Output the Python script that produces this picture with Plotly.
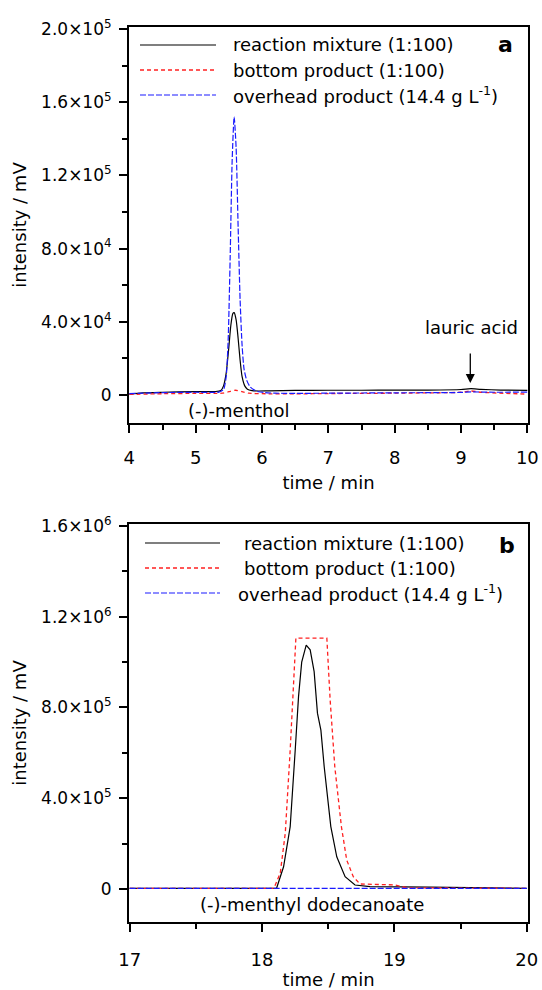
import plotly.graph_objects as go

# ---------------- Panel a data (time / min, intensity / mV) ----------------
t_a_mix = [4.0, 4.2, 4.5, 5.0, 5.3, 5.38, 5.42, 5.46, 5.50, 5.53, 5.56, 5.58, 5.61, 5.64, 5.67,
           5.70, 5.74, 5.78, 5.85, 5.95, 6.1, 6.5, 7.0, 7.5, 8.0, 8.5, 9.0, 9.15, 9.3, 9.6, 10.0]
i_a_mix = [500, 1200, 1500, 1800, 1900, 2500, 5000, 12000, 26000, 38000, 44500, 45000, 41000, 31000, 19000,
           10000, 5000, 3200, 2400, 2200, 2300, 2500, 2600, 2600, 2700, 2700, 3000, 3500, 3100, 2700, 2500]

t_a_bot = [4.0, 4.5, 5.0, 5.4, 5.5, 5.6, 5.7, 5.8, 6.0, 6.5, 7.0, 8.0, 9.0, 9.15, 9.3, 10.0]
i_a_bot = [300, 700, 900, 1000, 1800, 2600, 1800, 1000, 700, 600, 800, 1000, 1500, 2200, 1500, 500]

t_a_ovh = [4.0, 4.5, 5.0, 5.35, 5.42, 5.46, 5.49, 5.52, 5.55, 5.58, 5.61, 5.64, 5.67, 5.70, 5.73,
           5.77, 5.82, 5.88, 5.95, 6.05, 6.2, 6.5, 7.0, 8.0, 9.0, 9.15, 9.5, 10.0]
i_a_ovh = [800, 1300, 1500, 1600, 3000, 10000, 30000, 75000, 128000, 152000, 135000, 92000, 52000, 27000, 14000,
           8000, 4500, 2800, 1800, 1300, 1000, 900, 1000, 1200, 1400, 1700, 1500, 1600]

# ---------------- Panel b data ----------------
t_b_mix = [17.0, 17.5, 18.0, 18.11, 18.163, 18.213, 18.251, 18.276, 18.30, 18.334, 18.364, 18.394, 18.419,
           18.445, 18.47, 18.494, 18.52, 18.565, 18.628, 18.703, 18.816, 19.27, 20.0]
i_b_mix = [3000, 3000, 3000, 3000, 98000, 275000, 613000, 848000, 1000000, 1075000, 1054000, 958000, 775000,
           700000, 539000, 407000, 275000, 142000, 54000, 17600, 10000, 8000, 3000]

t_b_bot = [17.0, 17.5, 18.0, 18.09, 18.138, 18.176, 18.213, 18.243, 18.256, 18.49, 18.515, 18.55, 18.60,
           18.64, 18.69, 18.74, 19.0, 19.1, 19.5, 20.0]
i_b_bot = [3000, 3000, 3000, 3000, 70000, 247000, 613000, 980000, 1106000, 1106000, 833000, 539000, 275000,
           128000, 54000, 22000, 18000, 5000, 3000, 3000]

t_b_ovh = [17.0, 17.5, 18.0, 18.5, 19.0, 19.5, 20.0]
i_b_ovh = [3000, 3000, 3000, 3000, 3000, 3000, 3000]

# ---------------- Labels ----------------
series_names = ["reaction mixture (1:100)", "bottom product (1:100)", "overhead product (14.4 g L<sup>-1</sup>)"]
ytick_vals_a = [0, 40000, 80000, 120000, 160000, 200000]
ytick_text_a = ["0", "4.0×10<sup>4</sup>", "8.0×10<sup>4</sup>", "1.2×10<sup>5</sup>",
                "1.6×10<sup>5</sup>", "2.0×10<sup>5</sup>"]
ytick_vals_b = [0, 400000, 800000, 1200000, 1600000]
ytick_text_b = ["0", "4.0×10<sup>5</sup>", "8.0×10<sup>5</sup>", "1.2×10<sup>6</sup>", "1.6×10<sup>6</sup>"]
xtick_vals_a = [4, 5, 6, 7, 8, 9, 10]
xtick_vals_b = [17, 18, 19, 20]

FONT = "DejaVu Sans"
W, H = 542, 990
ML, MR, MT, MB = 129, 14, 27, 68
PW, PH = W - ML - MR, H - MT - MB


def px(x):
    return (x - ML) / PW


def py(y):
    return (H - MB - y) / PH


styles = [dict(color="black", width=1.2),
          dict(color="#ff2020", width=1.3, dash="4px,3px"),
          dict(color="#1a1aff", width=1.2, dash="6px,2px")]

fig = go.Figure()
for t, v, st, nm in zip([t_a_mix, t_a_bot, t_a_ovh], [i_a_mix, i_a_bot, i_a_ovh], styles, series_names):
    fig.add_trace(go.Scatter(x=t, y=v, mode="lines", line=dict(**st, shape="spline", smoothing=0.6),
                             name=nm, showlegend=False, xaxis="x", yaxis="y"))
for t, v, st, nm in zip([t_b_mix, t_b_bot, t_b_ovh], [i_b_mix, i_b_bot, i_b_ovh], styles, series_names):
    fig.add_trace(go.Scatter(x=t, y=v, mode="lines", line=st,
                             name=nm, showlegend=False, xaxis="x2", yaxis="y2"))

axis_common = dict(showline=True, linewidth=2, linecolor="black", mirror=True, ticks="outside",
                   ticklen=8, tickwidth=2, tickcolor="black", showgrid=False, zeroline=False,
                   tickfont=dict(family=FONT, size=17, color="black"))

ya_top = py(27)
ya_bot = py(423)
yb_top = py(524)

fig.update_layout(
    width=W, height=H, plot_bgcolor="white", paper_bgcolor="white",
    margin=dict(l=ML, r=MR, t=MT, b=MB, autoexpand=False),
    font=dict(family=FONT, color="black"),
    xaxis=dict(**{**axis_common, "tickfont": dict(family=FONT, size=18, color="black")},
               domain=[0, 1], anchor="y", range=[3.995, 10.01],
               tickvals=xtick_vals_a, ticktext=[str(v) for v in xtick_vals_a], ticklabelstandoff=9,
               minor=dict(ticks="outside", ticklen=5, tickwidth=2, tickcolor="black", dtick=0.5, tick0=4),
               title=dict(text="time / min", font=dict(family=FONT, size=18), standoff=10)),
    yaxis=dict(**axis_common, domain=[ya_bot, ya_top], anchor="x", range=[-15300, 201100],
               tickvals=ytick_vals_a, ticktext=ytick_text_a, ticklabelstandoff=4,
               minor=dict(ticks="outside", ticklen=5, tickwidth=2, tickcolor="black", dtick=20000, tick0=0),
               title=dict(text="intensity / mV", font=dict(family=FONT, size=18), standoff=10)),
    xaxis2=dict(**{**axis_common, "tickfont": dict(family=FONT, size=18, color="black")},
                domain=[0, 1], anchor="y2", range=[16.995, 20.01],
                tickvals=xtick_vals_b, ticktext=[str(v) for v in xtick_vals_b], ticklabelstandoff=12,
                minor=dict(ticks="outside", ticklen=5, tickwidth=2, tickcolor="black", dtick=0.5, tick0=17),
                title=dict(text="time / min", font=dict(family=FONT, size=18), standoff=8)),
    yaxis2=dict(**axis_common, domain=[0, yb_top], anchor="x2", range=[-145500, 1608800],
                tickvals=ytick_vals_b, ticktext=ytick_text_b, ticklabelstandoff=4,
                minor=dict(ticks="outside", ticklen=5, tickwidth=2, tickcolor="black", dtick=200000, tick0=0),
                title=dict(text="intensity / mV", font=dict(family=FONT, size=18), standoff=10)),
)

# manual legends (long line samples as in the original)
shapes = []
annotations = []
leg_a = dict(x0=140, x1=216, rows=[45, 70, 95], tx=[231, 231, 231])
leg_b = dict(x0=145, x1=220, rows=[543, 568, 593], tx=[242, 242, 236])
for leg in (leg_a, leg_b):
    for st, yrow, tx, nm in zip(styles, leg["rows"], leg["tx"], series_names):
        shapes.append(dict(type="line", xref="paper", yref="paper", x0=px(leg["x0"]), x1=px(leg["x1"]),
                           y0=py(yrow), y1=py(yrow), line=st))
        annotations.append(dict(text=nm, xref="paper", yref="paper", x=px(tx), y=py(yrow),
                                xanchor="left", yanchor="middle", showarrow=False,
                                font=dict(family=FONT, size=18, color="black")))

annotations += [
    dict(text="<b>a</b>", xref="paper", yref="paper", x=px(505), y=py(44), xanchor="center",
         yanchor="middle", showarrow=False, font=dict(family=FONT, size=22)),
    dict(text="<b>b</b>", xref="paper", yref="paper", x=px(507), y=py(545), xanchor="center",
         yanchor="middle", showarrow=False, font=dict(family=FONT, size=22)),
    dict(text="(-)-menthol", xref="x", yref="y", x=5.65, y=-8200, xanchor="center", yanchor="middle",
         showarrow=False, font=dict(family=FONT, size=18)),
    dict(text="lauric acid", xref="x", yref="y", x=9.16, y=37100, xanchor="center", yanchor="middle",
         showarrow=False, font=dict(family=FONT, size=18)),
    dict(text="", xref="x", yref="y", x=9.14, y=6500, axref="x", ayref="y", ax=9.14, ay=23500,
         showarrow=True, arrowhead=2, arrowsize=1.4, arrowwidth=1.3, arrowcolor="black"),
    dict(text="(-)-menthyl dodecanoate", xref="x2", yref="y2", x=18.38, y=-70500, xanchor="center",
         yanchor="middle", showarrow=False, font=dict(family=FONT, size=18)),
]
fig.update_layout(shapes=shapes, annotations=annotations)

# remove the browser's default page margin so the figure sits at the window's corner
fig.write_html("out.html", config={"displayModeBar": False},
               post_script="document.body.style.margin='0px';")
